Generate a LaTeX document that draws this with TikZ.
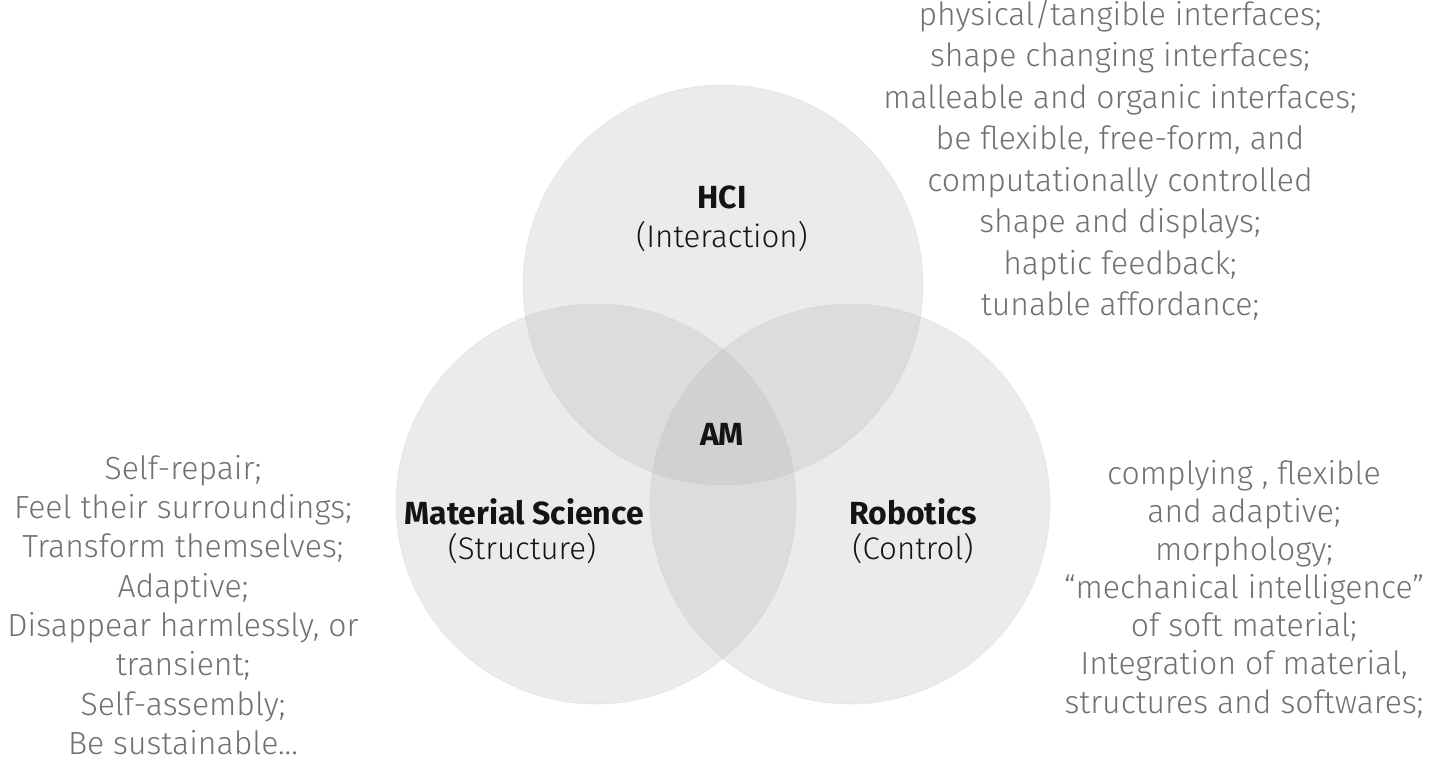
\documentclass[tikz,border=0pt]{standalone}
\usepackage{fontspec}
\setmainfont{Fira Sans}
\newfontfamily\lightfont{Fira Sans Light}
\definecolor{notegray}{RGB}{112,113,117}
\definecolor{labelink}{RGB}{20,20,20}

\tikzset{
  venn/.style={circle, minimum size=40mm, inner sep=0pt,
    fill=black!31, fill opacity=0.25, draw=black!31, draw opacity=0.15,
    line width=0.3pt},
  field/.style={text=labelink, font=\fontsize{9.1}{10}\selectfont\bfseries},
  focus/.style={text=labelink, font=\lightfont\fontsize{8.9}{10}\selectfont},
  notes/.style={align=center, text=notegray, inner sep=0pt}
}

\begin{document}
\begin{tikzpicture}[x=0.1mm, y=-0.1mm]
  \useasboundingbox (0,0) rectangle (1431,762);

  % three overlapping fields
  \node[venn] (hci)    at (723,285) {};
  \node[venn] (matsci) at (596,504) {};
  \node[venn] (robot)  at (850,504) {};

  % field names
  \node[field] (hcilbl) at (722,197) {HCI};
  \node[focus] (hcisub) at (722,237) {(Interaction)};
  \node[field] (matlbl) at (524,512) {Material Science};
  \node[focus] (matsub) at (522,549) {(Structure)};
  \node[field] (roblbl) at (913,512) {Robotics};
  \node[focus] (robsub) at (913,549) {(Control)};
  \node[field] (am)     at (722,434) {AM};

  % notes beside each field
  \node[notes, font=\lightfont\fontsize{9.1}{11.8}\selectfont] (hcinotes) at (1120,160)
    {physical/tangible interfaces;\\ shape changing interfaces;\\
     malleable and organic interfaces;\\ be flexible, free-form, and\\
     computationally controlled\\ shape and displays;\\
     haptic feedback;\\ tunable affordance;};
  \node[notes, font=\lightfont\fontsize{9.1}{11.2}\selectfont] (matnotes) at (183,605)
    {Self-repair;\\ Feel their surroundings;\\ Transform themselves;\\
     Adaptive;\\ Disappear harmlessly, or\\ transient;\\
     Self-assembly;\\ Be sustainable...};
  \node[notes, font=\lightfont\fontsize{9.1}{10.85}\selectfont] (robnotes) at (1244,589)
    {complying , flexible\\ and adaptive;\\ morphology;\\
     “mechanical intelligence”\\ of soft material;\\
     Integration of material,\\ structures and softwares;};
\end{tikzpicture}
\end{document}
